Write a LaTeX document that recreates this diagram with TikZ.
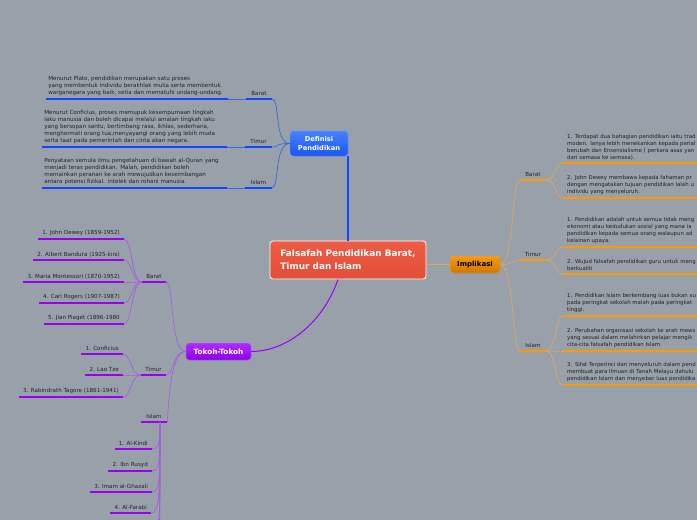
\documentclass[tikz,border=0pt]{standalone}
\usepackage{fontspec}
\setmainfont{DejaVu Sans}
\usetikzlibrary{shadows}
\definecolor{bg}{RGB}{152,161,169}
\definecolor{txtc}{RGB}{35,35,35}
\definecolor{blueU}{RGB}{20,70,255}
\definecolor{blueT}{RGB}{60,100,225}
\definecolor{purU}{RGB}{155,0,240}
\definecolor{purT}{RGB}{165,95,220}
\definecolor{oraU}{RGB}{255,153,0}
\definecolor{oraT}{RGB}{222,165,95}
\tikzset{
  tx/.style={font=\fontsize{5.6}{7}\selectfont, text=txtc, inner xsep=4pt, inner ysep=3pt, align=left},
  rtx/.style={tx, font=\fontsize{5.4}{7}\selectfont, text width=200pt, anchor=south west},
  lab/.style={font=\fontsize{5.6}{7}\selectfont, text=txtc, inner xsep=0pt, inner ysep=3pt},
  bU/.style={line width=2.3pt, draw=blueU},
  bT/.style={line width=0.7pt, draw=blueT},
  pU/.style={line width=2.3pt, draw=purU},
  pT/.style={line width=0.7pt, draw=purT},
  oU/.style={line width=2.3pt, draw=oraU},
  oT/.style={line width=0.7pt, draw=oraT},
  topic/.style={rounded corners=3pt, font=\bfseries\fontsize{7}{8}\selectfont, align=center, inner sep=0pt,
     drop shadow={opacity=0.25, shadow xshift=0.6pt, shadow yshift=-0.8pt}},
}
\begin{document}
\begin{tikzpicture}[x=1pt,y=-1pt]
\useasboundingbox (0,0) rectangle (697,520);
\fill[bg] (0,0) rectangle (697,520);
\clip (0,0) rectangle (697,520);

% ---------- main nodes ----------
\node[rounded corners=3pt, draw=white, line width=0.8pt, top color={rgb,255:red,238;green,92;blue,68}, bottom color={rgb,255:red,226;green,78;blue,56},
  text=white, font=\bfseries\fontsize{8.9}{13}\selectfont, align=left, minimum width=156pt, minimum height=38pt, inner xsep=6pt,
  drop shadow={opacity=0.2, shadow xshift=0.6pt, shadow yshift=-0.8pt}] (central) at (348,260) {Falsafah Pendidikan Barat,\\Timur dan Islam};

\node[topic, top color={rgb,255:red,70;green,130;blue,255}, bottom color={rgb,255:red,25;green,85;blue,245}, draw={rgb,255:red,120;green,160;blue,255}, line width=0.4pt,
  text=white, minimum width=58pt, minimum height=25pt, font=\bfseries\fontsize{6.7}{9}\selectfont] (def) at (319,143.5) {Definisi\\Pendidikan};

\node[topic, top color={rgb,255:red,175;green,45;blue,255}, bottom color={rgb,255:red,140;green,0;blue,235}, draw={rgb,255:red,190;green,110;blue,255}, line width=0.4pt,
  text=white, minimum width=65pt, minimum height=17pt, font=\bfseries\fontsize{7.3}{8}\selectfont] (tok) at (218.5,351.5) {Tokoh-Tokoh};

\node[topic, top color={rgb,255:red,245;green,155;blue,20}, bottom color={rgb,255:red,210;green,118;blue,0}, draw={rgb,255:red,240;green,165;blue,60}, line width=0.4pt,
  text=black, minimum width=50pt, minimum height=17pt] (imp) at (475,264.5) {Implikasi};

% main connectors
\draw[line width=2pt, draw=blueU] (central.north) -- (central.north |- def.south);
\coordinate (cb) at (338,279.5);
\draw[line width=1pt, draw=purU] (cb) .. controls (322,325) and (285,351.5) .. (tok.east);
\draw[oT] (central.east |- imp.west) -- (imp.west);

% ---------- Definisi Pendidikan ----------
\node[tx, text width=177pt, inner xsep=2.5pt, anchor=south east] (db) at (228,99) {Menurut Plato, pendidikan merupakan satu proses\\yang membentuk individu berakhlak mulia serta membentuk\\warganegara yang baik, setia dan mematuhi undang-undang.};
\draw[bU] (db.south west) -- (db.south east);
\node[lab, minimum width=26pt, anchor=south] (dlb) at (259,99) {Barat};
\draw[bU] (dlb.south west) -- (dlb.south east);
\draw[bT] (db.south east) -- (dlb.south west);
\draw[bT] (def.west) .. controls +(-16,0) and +(8,0) .. (dlb.south east);

\node[tx, text width=180pt, inner xsep=2.5pt, anchor=south east] (dt) at (227,147) {Menurut Conficius, proses memupuk kesempurnaan tingkah\\laku manusia dan boleh dicapai melalui amalan tingkah laku\\yang bersopan santu, bertimbang rasa, ikhlas, sederhana,\\menghormati orang tua,menyayangi orang yang lebih muda\\serta taat pada pemerintah dan cinta akan negara.};
\draw[bU] (dt.south west) -- (dt.south east);
\node[lab, minimum width=26pt, anchor=south] (dlt) at (258.5,147) {Timur};
\draw[bU] (dlt.south west) -- (dlt.south east);
\draw[bT] (dt.south east) -- (dlt.south west);
\draw[bT] (def.west) .. controls +(-16,0) and +(8,0) .. (dlt.south east);

\node[tx, text width=180pt, inner xsep=2.5pt, anchor=south east] (di) at (227,188) {Penyataan semula ilmu pengetahuan di bawah al-Quran yang\\menjadi teras pendidikan. Malah, pendidikan boleh\\memainkan peranan ke arah mewujudkan keseimbangan\\antara potensi fizikal. intelek dan rohani manusia.};
\draw[bU] (di.south west) -- (di.south east);
\node[lab, minimum width=26pt, anchor=south] (dli) at (258.5,188) {Islam};
\draw[bU] (dli.south west) -- (dli.south east);
\draw[bT] (di.south east) -- (dli.south west);
\draw[bT] (def.west) .. controls +(-16,0) and +(8,0) .. (dli.south east);

% ---------- Tokoh-Tokoh ----------
\node[lab, minimum width=24pt, anchor=south] (tb) at (154,282) {Barat};
\draw[pU] (tb.south west) -- (tb.south east);
\node[lab, minimum width=25pt, anchor=south] (tt) at (153.5,375) {Timur};
\draw[pU] (tt.south west) -- (tt.south east);
\node[lab, minimum width=26pt, anchor=south] (ti) at (154,422) {Islam};
\draw[pU] (ti.south west) -- (ti.south east);
\draw[pT] (tok.west) .. controls +(-16,0) and +(8,0) .. (tb.south east);
\draw[pT] (tok.west) .. controls +(-14,0) and +(8,0) .. (tt.south east);
\draw[pT] (tok.west) .. controls +(-14,0) and +(2,-30) .. (ti.south east);

% Barat children
\node[tx, anchor=south east] (b1) at (124,239) {1. John Dewey (1859-1952)};
\node[tx, anchor=south east] (b2) at (124,260) {2. Albert Bandura (1925-kini)};
\node[tx, anchor=south east] (b3) at (124,282) {3. Maria Montessori (1870-1952)};
\node[tx, anchor=south east] (b4) at (124,303) {4. Carl Rogers (1907-1987)};
\node[tx, anchor=south east] (b5) at (124,324) {5. Jian Piaget (1896-1980};
\foreach \n in {b1,b2,b3,b4,b5}{
  \draw[pU] (\n.south west) -- (\n.south east);
  \draw[pT] (tb.south west) .. controls +(-10,0) and +(8,0) .. (\n.south east);
}
% Timur children
\node[tx, anchor=south east] (t1) at (123,354) {1. Conficius};
\node[tx, anchor=south east] (t2) at (123,375) {2. Lao Tze};
\node[tx, anchor=south east] (t3) at (123,397) {3. Rabindrath Tagore (1861-1941)};
\foreach \n in {t1,t2,t3}{
  \draw[pU] (\n.south west) -- (\n.south east);
  \draw[pT] (tt.south west) .. controls +(-10,0) and +(8,0) .. (\n.south east);
}
% Islam children
\coordinate (tis) at (160,422);
\node[tx, anchor=south east] (k1) at (152,449) {1. Al-Kindi};
\node[tx, anchor=south east] (k2) at (152,471) {2. Ibn Rusyd};
\node[tx, anchor=south east] (k3) at (152,492) {3. Imam al-Ghazali};
\node[tx, anchor=south east] (k4) at (151,513) {4. Al-Farabi};
\coordinate (k5) at (152,535);
\coordinate (k6) at (152,556);
\coordinate (k7) at (152,578);
\foreach \n in {k1,k2,k3,k4}{
  \draw[pU] (\n.south west) -- (\n.south east);
}
\draw[pT] (tis) .. controls +(0,18) and +(8,0) .. (k1.south east);
\draw[pT] (tis) .. controls +(0,38) and +(8,0) .. (k2.south east);
\draw[pT] (tis) .. controls +(0,58) and +(8,0) .. (k3.south east);
\draw[pT] (tis) .. controls +(0,78) and +(8,0) .. (k4.south east);
\draw[pT] (tis) .. controls +(0,100) and +(8,0) .. (k5);
\draw[pT] (tis) .. controls +(0,120) and +(8,0) .. (k6);
\draw[pT] (tis) .. controls +(0,140) and +(8,0) .. (k7);

% ---------- Implikasi ----------
\node[lab, minimum width=26pt, anchor=south] (ib) at (533,180) {Barat};
\draw[oU] (ib.south west) -- (ib.south east);
\node[lab, minimum width=26pt, anchor=south] (it) at (533,260) {Timur};
\draw[oU] (it.south west) -- (it.south east);
\node[lab, minimum width=26pt, anchor=south] (ii) at (533,351) {Islam};
\draw[oU] (ii.south west) -- (ii.south east);
\foreach \n in {ib,it,ii}{
  \draw[oT] (imp.east) .. controls +(14,0) and +(-8,0) .. (\n.south west);
}

\node[rtx] (ib1) at (563,163) {1. Terdapat dua bahagian pendidikan iaitu trad\\moden. Ianya lebih menekankan kepada perial\\berubah dan Ensensialisme ( perkara asas yan\\dari semasa ke semasa).};
\node[rtx] (ib2) at (563,198) {2. John Dewey membawa kepada fahaman pr\\dengan mengatakan tujuan pendidikan ialah u\\individu yang menyeluruh.};
\foreach \n in {ib1,ib2}{
  \draw[oU] (\n.south west) -- (\n.south east);
  \draw[oT] (ib.south east) .. controls +(10,0) and +(-8,0) .. (\n.south west);
}
\node[rtx] (it1) at (563,247) {1. Pendidikan adalah untuk semua tidak meng\\ekonomi atau kedudukan sosial yang mana ia\\pendidikan kepada semua orang walaupun ad\\kelainan upaya.};
\node[rtx] (it2) at (563,274) {2. Wujud falsafah pendidikan guru untuk meng\\berkualiti};
\foreach \n in {it1,it2}{
  \draw[oU] (\n.south west) -- (\n.south east);
  \draw[oT] (it.south east) .. controls +(10,0) and +(-8,0) .. (\n.south west);
}
\node[rtx] (ii1) at (563,316) {1. Pendidikan Islam berkembang luas bukan su\\pada peringkat sekolah malah pada peringkat\\tinggi.};
\node[rtx] (ii2) at (563,351) {2. Perubahan organisasi sekolah ke arah mews\\yang sesuai dalam melahirkan pelajar mengik\\cita-cita falsafah pendidikan Islam.};
\node[rtx] (ii3) at (563,385) {3. Sifat Terperinci dan menyeluruh dalam pend\\membuat para Ilmuan di Tanah Melayu dahulu\\pendidikan Islam dan menyebar luas pendidika};
\foreach \n in {ii1,ii2,ii3}{
  \draw[oU] (\n.south west) -- (\n.south east);
  \draw[oT] (ii.south east) .. controls +(10,0) and +(-8,0) .. (\n.south west);
}
\end{tikzpicture}
\end{document}
